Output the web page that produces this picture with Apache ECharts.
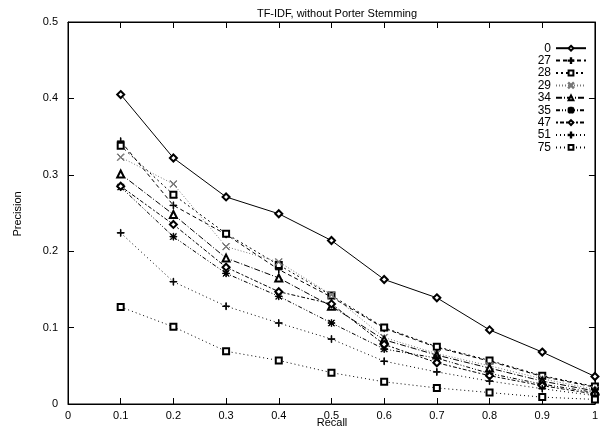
<!DOCTYPE html>
<html>
<head>
<meta charset="utf-8">
<script src="https://cdn.jsdelivr.net/npm/echarts@6/dist/echarts.min.js"></script>
<style>html,body{margin:0;padding:0;background:#fff}#c{width:601px;height:433px}</style>
</head>
<body>
<div id="c"></div>
<script>
var recall = [0.1,0.2,0.3,0.4,0.5,0.6,0.7,0.8,0.9,1.0];
var xTicks = ['0','0.1','0.2','0.3','0.4','0.5','0.6','0.7','0.8','0.9','1'];
var yTicks = ['0','0.1','0.2','0.3','0.4','0.5'];
var names = ['0','27','28','29','34','35','47','51','75'];
var s0  = [0.405,0.322,0.271,0.249,0.214,0.163,0.139,0.097,0.068,0.036];
var s27 = [0.344,0.260,0.222,0.176,0.140,0.099,0.074,0.056,0.036,0.022];
var s28 = [0.338,0.274,0.223,0.182,0.142,0.100,0.075,0.057,0.037,0.023];
var s29 = [0.323,0.288,0.206,0.186,0.143,0.087,0.066,0.050,0.033,0.019];
var s34 = [0.301,0.248,0.191,0.165,0.128,0.084,0.064,0.047,0.030,0.017];
var s35 = [0.284,0.219,0.171,0.141,0.106,0.072,0.060,0.040,0.026,0.015];
var s47 = [0.285,0.235,0.179,0.147,0.131,0.078,0.054,0.037,0.024,0.013];
var s51 = [0.224,0.160,0.128,0.106,0.085,0.056,0.042,0.030,0.020,0.011];
var s75 = [0.127,0.101,0.069,0.057,0.041,0.029,0.021,0.015,0.009,0.006];
var values = [s0,s27,s28,s29,s34,s35,s47,s51,s75];

var PLUS = 'path://M4.6,0h0.8v4.6h4.6v0.8h-4.6v4.6h-0.8v-4.6h-4.6v-0.8h4.6z';
var CROSS = 'path://M0,0.7L0.7,0L5,4.3L9.3,0L10,0.7L5.7,5L10,9.3L9.3,10L5,5.7L0.7,10L0,9.3L4.3,5Z';
var STAR = 'path://M4.6,0h0.8v4.6h4.6v0.8h-4.6v4.6h-0.8v-4.6h-4.6v-0.8h4.6zM0.5,1.1L1.1,0.5L5,4.4L8.9,0.5L9.5,1.1L5.6,5L9.5,8.9L8.9,9.5L5,5.6L1.1,9.5L0.5,8.9L4.4,5Z';
var styles = [
  {sym:'emptyDiamond', size:7, dash:'solid', color:'#000'},
  {sym:PLUS, size:7, dash:[4,3], color:'#000'},
  {sym:'emptyRect', size:6, dash:[2,3], color:'#000'},
  {sym:CROSS, size:7, dash:[1,2], color:'#777'},
  {sym:'emptyTriangle', size:7, dash:[6,2,1,2], color:'#000'},
  {sym:STAR, size:7, dash:[4,2,1,2,1,2], color:'#000'},
  {sym:'emptyDiamond', size:7, dash:[2,2,4,2], color:'#000'},
  {sym:PLUS, size:7, dash:[1,3], color:'#000'},
  {sym:'emptyRect', size:6, dash:[1,3], color:'#000'}
];

var series = names.map(function(n, i){
  var st = styles[i];
  return {
    name: n, type: 'line',
    data: recall.map(function(r, j){ return [r, values[i][j]]; }),
    symbol: st.sym, symbolSize: st.size, showAllSymbol: true,
    lineStyle: {color: st.color, width: 1, type: st.dash},
    itemStyle: {color: st.color, borderColor: st.color, borderWidth: 1}
  };
});

var font = 'Liberation Sans, Arial, sans-serif';
var chart = echarts.init(document.getElementById('c'));
chart.setOption({
  animation: false,
  title: {text: 'TF-IDF, without Porter Stemming', left: 332, textAlign: 'center', top: 3,
    textStyle: {fontFamily: font, fontSize: 11, fontWeight: 'normal', color: '#000'}},
  legend: {
    orient: 'vertical', right: 9, top: 37, align: 'right', itemGap: 0,
    itemWidth: 30, itemHeight: 6,
    textStyle: {fontFamily: font, fontSize: 12, color: '#000', lineHeight: 12.4, height: 12.4},
    data: names, selectedMode: false
  },
  graphic: [
    {type: 'text', x: 332, y: 423, style: {text: 'Recall', align: 'center', verticalAlign: 'middle',
      font: '11px Liberation Sans, Arial, sans-serif', fill: '#000'}},
    {type: 'text', x: 18, y: 214, rotation: Math.PI / 2, style: {text: 'Precision', align: 'center',
      verticalAlign: 'middle', font: '11px Liberation Sans, Arial, sans-serif', fill: '#000'}}
  ],
  grid: {left: 68, right: 5, top: 22, bottom: 29, show: true, borderColor: '#000', borderWidth: 1},
  xAxis: [
    {type: 'value', min: 0, max: 1, interval: 0.1, position: 'bottom',
      axisLine: {show: true, onZero: false, lineStyle: {color: '#000', width: 1}},
      axisTick: {show: true, inside: true, length: 6, lineStyle: {color: '#000'}}, splitLine: {show: false},
      axisLabel: {fontFamily: font, fontSize: 11, color: '#000', margin: 6}},
    {type: 'value', min: 0, max: 1, interval: 0.1, position: 'top',
      axisLine: {show: true, onZero: false, lineStyle: {color: '#000', width: 1}},
      axisTick: {show: true, inside: true, length: 6, lineStyle: {color: '#000'}}, splitLine: {show: false}, axisLabel: {show: false}}
  ],
  yAxis: [
    {type: 'value', min: 0, max: 0.5, interval: 0.1, position: 'left',
      axisLine: {show: true, onZero: false, lineStyle: {color: '#000', width: 1}},
      axisTick: {show: true, inside: true, length: 6, lineStyle: {color: '#000'}}, splitLine: {show: false},
      axisLabel: {fontFamily: font, fontSize: 11, color: '#000', margin: 10}},
    {type: 'value', min: 0, max: 0.5, interval: 0.1, position: 'right',
      axisLine: {show: true, onZero: false, lineStyle: {color: '#000', width: 1}},
      axisTick: {show: true, inside: true, length: 6, lineStyle: {color: '#000'}}, splitLine: {show: false}, axisLabel: {show: false}}
  ],
  series: series
});
</script>
</body>
</html>
